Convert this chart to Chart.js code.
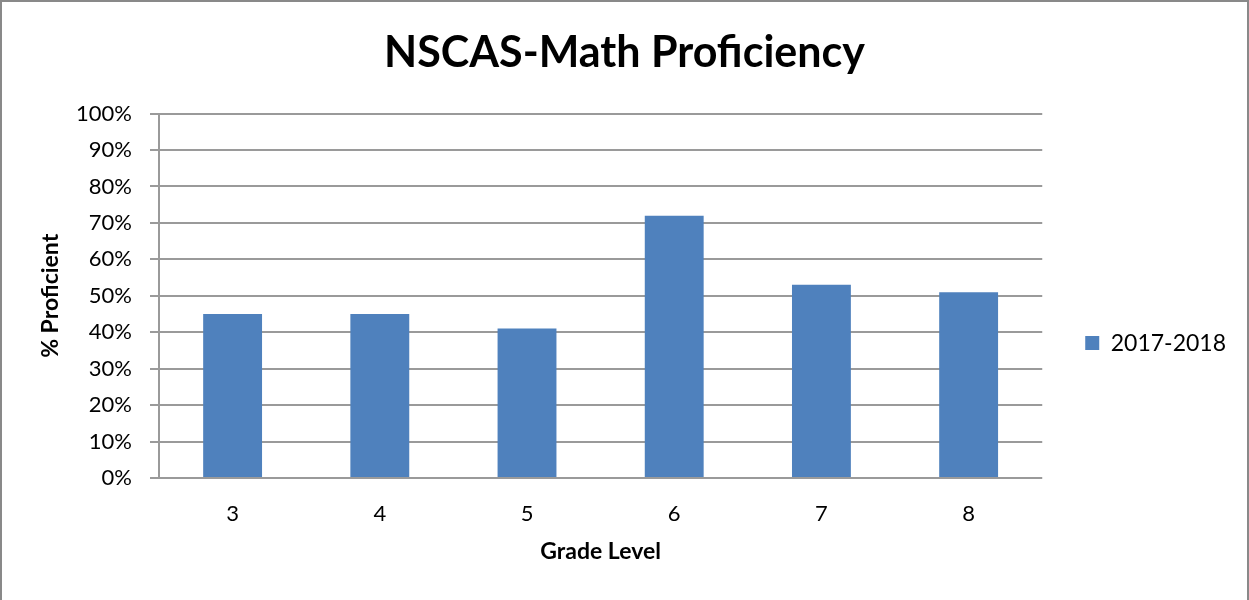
<!DOCTYPE html>
<html>
<head>
<meta charset="utf-8">
<script src="https://cdn.jsdelivr.net/npm/chart.js@4/dist/chart.umd.min.js"></script>
<style>
  body { margin: 0; background: #fff; }
  #wrap { position: relative; width: 1249px; height: 600px; }
  #frame { position: absolute; left: 0; top: 0; width: 1245px; height: 600px;
           border: 2px solid #898989; border-bottom: none; pointer-events: none; }
</style>
</head>
<body>
<div id="wrap">
  <canvas id="mathChart" width="1249" height="600"></canvas>
  <div id="frame"></div>
</div>
<script>
const grades = ['3', '4', '5', '6', '7', '8'];
const proficient = [45, 45, 41, 72, 53, 51];
const seriesName = '2017-2018';

const gridGray = '#9a9a9a';
const font = 'Lato, "Open Sans", sans-serif';

// keep the title centred on the whole canvas, not on the padded box
const centerTitle = {
  id: 'centerTitle',
  afterLayout(c) {
    if (c.titleBlock) {
      c.titleBlock.left = 0;
      c.titleBlock.right = c.width;
    }
  }
};

const ctx = document.getElementById('mathChart').getContext('2d');
const chart = new Chart(ctx, {
  type: 'bar',
  data: {
    labels: grades,
    datasets: [{
      label: seriesName,
      data: proficient,
      backgroundColor: '#4f81bd',
      categoryPercentage: 1,
      barPercentage: 0.4
    }]
  },
  plugins: [centerTitle],
  options: {
    responsive: false,
    animation: false,
    layout: { padding: { left: 0, right: 13, top: 0, bottom: 0 } },
    plugins: {
      title: {
        display: true,
        text: 'NSCAS-Math Proficiency',
        color: '#000',
        font: { family: font, size: 43, weight: 'bold' },
        padding: { top: 27, bottom: 35 }
      },
      legend: {
        position: 'right',
        // empty title only pushes the single entry down a bit
        title: { display: true, text: ' ', font: { size: 6 }, padding: { top: 0, bottom: 79 } },
        labels: {
          boxWidth: 14,
          boxHeight: 14,
          padding: 43,
          color: '#000',
          font: { family: font, size: 23 }
        }
      },
      tooltip: { enabled: false }
    },
    scales: {
      x: {
        grid: { display: false, drawTicks: false },
        border: { display: false },
        ticks: { color: '#000', padding: 23, font: { family: font, size: 22 } },
        title: {
          display: true,
          text: 'Grade Level',
          color: '#000',
          font: { family: font, size: 23, weight: 'bold' },
          padding: { top: 0, bottom: 35 }
        },
        afterFit: s => { s.height = 122; }
      },
      y: {
        min: 0,
        max: 100,
        grid: { color: gridGray, lineWidth: 2, tickLength: 9 },
        border: { color: gridGray, width: 2 },
        ticks: {
          stepSize: 10,
          color: '#000',
          padding: 18,
          font: { family: font, size: 22 },
          callback: v => v + '%'
        },
        title: {
          display: true,
          text: '% Proficient',
          color: '#000',
          font: { family: font, size: 23, weight: 'bold' },
          padding: { top: 37, bottom: 0 }
        },
        afterFit: s => { s.width = 159; }
      }
    }
  }
});
</script>
</body>
</html>
